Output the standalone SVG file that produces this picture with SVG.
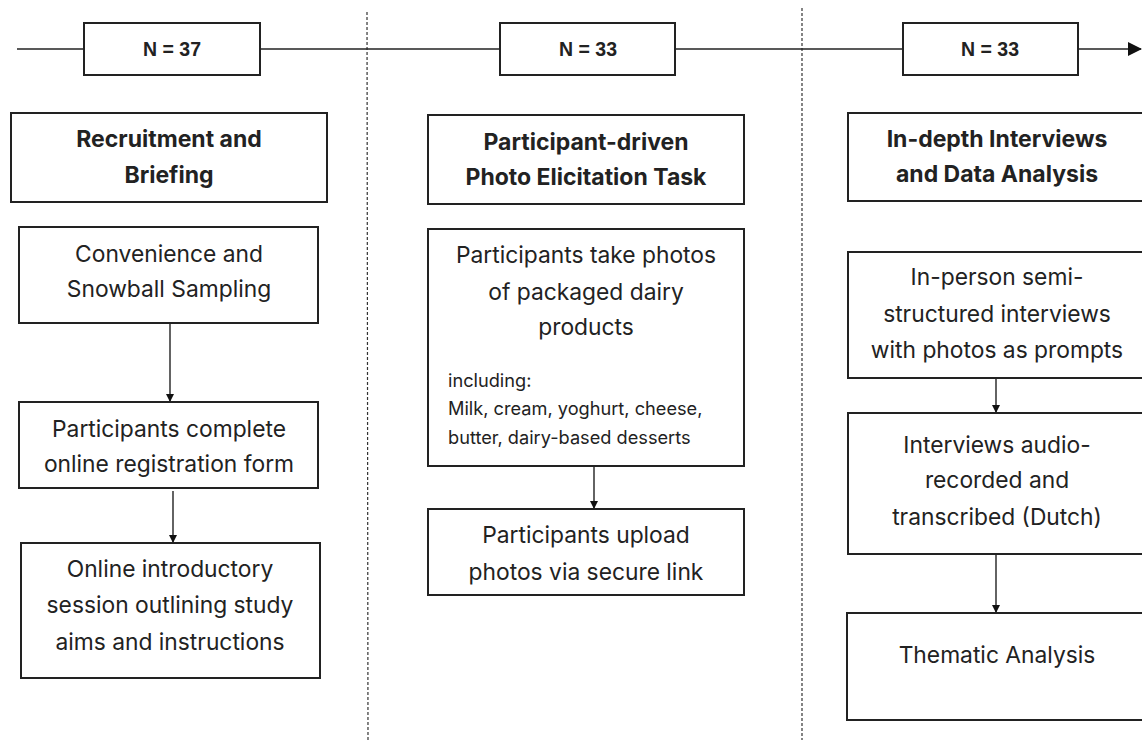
<svg xmlns="http://www.w3.org/2000/svg" width="1142" height="740" viewBox="0 0 1142 740">
<style>
.box{fill:#fff;stroke:#222;stroke-width:2}
.t{font-family:Inter,"Open Sans","Liberation Sans",sans-serif;fill:#222;text-anchor:middle}
.n{font-family:"Liberation Sans",Arial,sans-serif;font-size:19.5px;font-weight:700}
.h{font-size:23px;font-weight:700}
.b{font-size:22.8px}
.s{font-size:18.2px;text-anchor:start}
.ln{stroke:#222;stroke-width:1.4;fill:none}
.dash{stroke:#333;stroke-width:1.2;stroke-dasharray:3 2;fill:none}
</style>
<defs>
<marker id="ah" markerWidth="8" markerHeight="8" refX="7" refY="4" orient="auto" markerUnits="userSpaceOnUse">
<path d="M0,0 L8,4 L0,8 Z" fill="#111"/>
</marker>
<marker id="ahb" markerWidth="14" markerHeight="14" refX="13" refY="7" orient="auto" markerUnits="userSpaceOnUse">
<path d="M0,0 L14,7 L0,14 Z" fill="#111"/>
</marker>
</defs>
<rect width="1142" height="740" fill="#fff"/>
<g id="dividers">
<line class="dash" x1="367" y1="12" x2="368" y2="740"/>
<line class="dash" x1="802" y1="8" x2="802" y2="740"/>
</g>
<g id="connectors">
<line class="ln" x1="17" y1="49" x2="84" y2="49"/>
<line class="ln" x1="260" y1="49" x2="500" y2="49"/>
<line class="ln" x1="675" y1="49" x2="903" y2="49"/>
<line class="ln" x1="1078" y1="49" x2="1141" y2="49" marker-end="url(#ahb)"/>
<line class="ln" x1="170" y1="323" x2="170" y2="401" marker-end="url(#ah)"/>
<line class="ln" x1="173" y1="491" x2="173" y2="542" marker-end="url(#ah)"/>
<line class="ln" x1="594" y1="466" x2="594" y2="508" marker-end="url(#ah)"/>
<line class="ln" x1="996" y1="378" x2="996" y2="412" marker-end="url(#ah)"/>
<line class="ln" x1="996" y1="554" x2="996" y2="612" marker-end="url(#ah)"/>
</g>
<g id="n1">
<rect class="box" x="84" y="23" width="176" height="52"/>
<text class="t n" x="172" y="56">N = 37</text>
</g>
<g id="n2">
<rect class="box" x="500" y="23" width="175" height="52"/>
<text class="t n" x="588" y="56">N = 33</text>
</g>
<g id="n3">
<rect class="box" x="903" y="23" width="175" height="52"/>
<text class="t n" x="990" y="56">N = 33</text>
</g>
<g id="recruit">
<rect class="box" x="11" y="113" width="316" height="89"/>
<text class="t h" x="169" y="147">Recruitment and</text>
<text class="t h" x="169" y="183">Briefing</text>
</g>
<g id="sampling">
<rect class="box" x="19" y="227" width="299" height="96"/>
<text class="t b" x="169" y="262">Convenience and</text>
<text class="t b" x="169" y="297">Snowball Sampling</text>
</g>
<g id="registration">
<rect class="box" x="19" y="402" width="299" height="86"/>
<text class="t b" x="169" y="437">Participants complete</text>
<text class="t b" x="169" y="472">online registration form</text>
</g>
<g id="intro">
<rect class="box" x="21" y="543" width="299" height="135"/>
<text class="t b" x="170" y="577">Online introductory</text>
<text class="t b" x="170" y="613">session outlining study</text>
<text class="t b" x="170" y="650">aims and instructions</text>
</g>
<g id="photo-task">
<rect class="box" x="428" y="115" width="316" height="89"/>
<text class="t h" x="586" y="150">Participant-driven</text>
<text class="t h" x="586" y="185">Photo Elicitation Task</text>
</g>
<g id="take-photos">
<rect class="box" x="428" y="229" width="316" height="237"/>
<text class="t b" x="586" y="263">Participants take photos</text>
<text class="t b" x="586" y="300">of packaged dairy</text>
<text class="t b" x="586" y="335">products</text>
<text class="t s" x="448" y="387">including:</text>
<text class="t s" x="448" y="415">Milk, cream, yoghurt, cheese,</text>
<text class="t s" x="448" y="444">butter, dairy-based desserts</text>
</g>
<g id="upload">
<rect class="box" x="428" y="509" width="316" height="86"/>
<text class="t b" x="586" y="543">Participants upload</text>
<text class="t b" x="586" y="580">photos via secure link</text>
</g>
<g id="interviews">
<rect class="box" x="848" y="113" width="300" height="88"/>
<text class="t h" x="997" y="147">In-depth Interviews</text>
<text class="t h" x="997" y="182">and Data Analysis</text>
</g>
<g id="in-person">
<rect class="box" x="848" y="252" width="300" height="126"/>
<text class="t b" x="997" y="285">In-person semi-</text>
<text class="t b" x="997" y="322">structured interviews</text>
<text class="t b" x="997" y="358">with photos as prompts</text>
</g>
<g id="recorded">
<rect class="box" x="848" y="413" width="300" height="141"/>
<text class="t b" x="997" y="453">Interviews audio-</text>
<text class="t b" x="997" y="488">recorded and</text>
<text class="t b" x="997" y="525">transcribed (Dutch)</text>
</g>
<g id="thematic">
<rect class="box" x="847" y="613" width="300" height="107"/>
<text class="t b" x="997" y="663">Thematic Analysis</text>
</g>
</svg>
